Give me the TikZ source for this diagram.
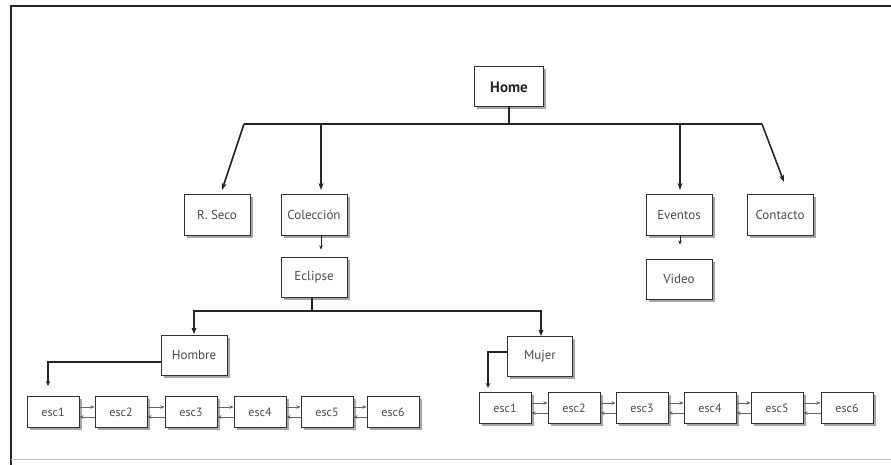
\documentclass[tikz,border=0pt]{standalone}
\usepackage{fontspec}
\setmainfont{PT Sans}
\usetikzlibrary{arrows.meta,shadows,calc}
\begin{document}
\begin{tikzpicture}[x=1pt,y=-1pt,
  box/.style={draw=black!80,line width=1pt,fill=white,inner sep=0pt,
    drop shadow={shadow xshift=2.5pt,shadow yshift=-2.5pt,fill=black!50,opacity=0.7},
    font=\fontsize{13}{15}\selectfont,text=black!70},
  big/.style={box,minimum width=66pt,minimum height=40pt},
  esc/.style={box,minimum width=52pt,minimum height=31pt,font=\fontsize{12}{14}\selectfont},
  bus/.style={line width=1.6pt,black!85},
  arr/.style={bus,-{Stealth[length=7pt,width=5pt]}},
  tiny/.style={line width=0.5pt,black!60,-{Stealth[length=4pt,width=3.5pt]}}]
\useasboundingbox (0,0) rectangle (891,465);
% frame
\draw[line width=2.5pt,black!85] (891,6) -- (11,6) -- (11,465);
\draw[line width=0.6pt,black!25] (11,459) -- (891,459);
% nodes
\node[big,minimum width=69pt,font=\fontsize{15}{17}\selectfont\bfseries,text=black!85] (home) at (509,87) {Home};
\node[big] (rseco) at (217,215) {R. Seco};
\node[big] (col) at (314,215) {Colección};
\node[big] (evt) at (679,215) {Eventos};
\node[big] (con) at (780,215) {Contacto};
\node[big] (ecl) at (314,277) {Eclipse};
\node[big] (vid) at (679,279) {Video};
\node[big] (hom) at (194,355) {Hombre};
\node[big,minimum width=65pt] (muj) at (540,356) {Mujer};
% esc rows
\foreach \i/\x in {1/53,2/121,3/191,4/260,5/327,6/393}
  \node[esc] (l\i) at (\x,412) {esc\i};
\foreach \i/\x in {1/505,2/574,3/642,4/710,5/777,6/847}
  \node[esc] (r\i) at (\x,408) {esc\i};
% top bus
\coordinate (b0) at (509,124);
\coordinate (bl) at (244,124);
\coordinate (br) at (762,124);
\draw[bus] (home.south) -- (b0);
\draw[bus] (bl) -- (br);
\draw[arr] (bl) -- (222,190);
\draw[arr] (321,124) -- (321,190);
\draw[arr] (680,124) -- (680,190);
\draw[arr] (br) -- (784,182);
\draw[tiny,black!85] (col.south) ++(7,0) -- ++(0,14);
\draw[tiny,black!85] (evt.south) ++(1,0) -- ++(0,9);
% second bus
\coordinate (c0) at (312,311);
\draw[bus] (ecl.south) ++(-2,0) -- (c0);
\draw[bus] (194,331) -- (194,311) -- (541,311) -- (541,333);
\fill[black!85] (194,334) -- (191.5,328) -- (196.5,328) -- cycle;
\fill[black!85] (541,336) -- (538.5,330) -- (543.5,330) -- cycle;
% Hombre / Mujer to esc rows
\draw[bus,line width=1.4pt,-{Stealth[length=5pt,width=4.5pt]}] (hom.west|-0,362) -- (48,362) -- (48,386);
\draw[bus,line width=1.4pt,-{Stealth[length=5pt,width=4.5pt]}] (muj.west|-0,352) -- (488,352) -- (488,388);
% esc arrows
\foreach \a/\b in {1/2,2/3,3/4,4/5,5/6}{
  \draw[tiny] ([yshift=5pt]l\a.east) -- ([yshift=5pt]l\b.west);
  \draw[tiny] ([yshift=-5pt]l\b.west) -- ([yshift=-5pt]l\a.east);
  \draw[tiny] ([yshift=5pt]r\a.east) -- ([yshift=5pt]r\b.west);
  \draw[tiny] ([yshift=-5pt]r\b.west) -- ([yshift=-5pt]r\a.east);
}
\end{tikzpicture}
\end{document}
